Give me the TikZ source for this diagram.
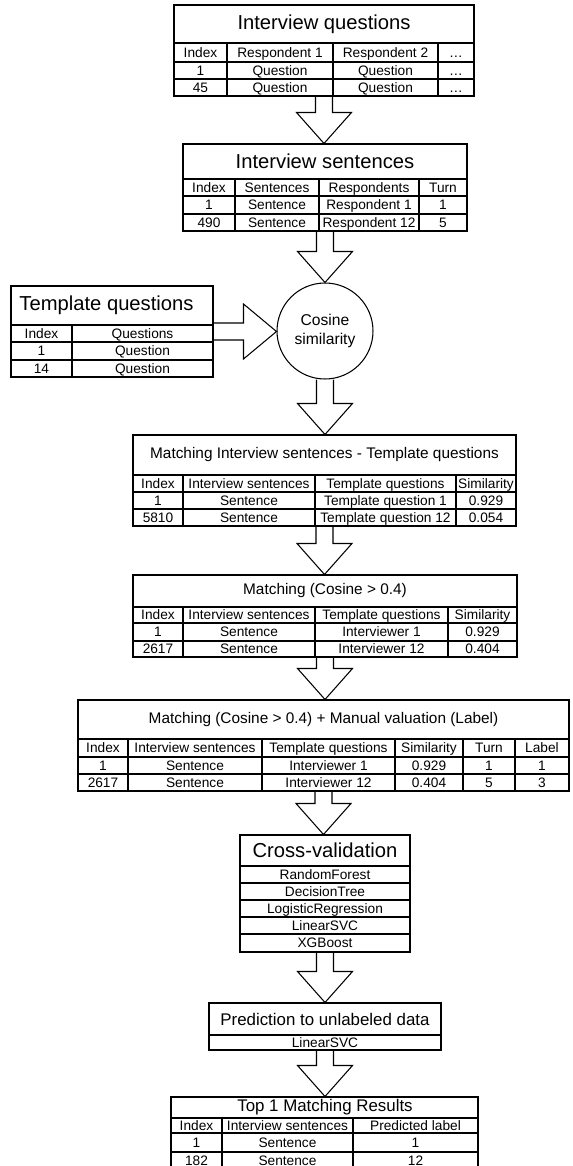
\documentclass[tikz,border=0pt]{standalone}
\usepackage{fontspec}
\setmainfont{Liberation Sans}
\usetikzlibrary{calc,fit}

\tikzset{
    box/.style={draw, inner sep=0pt},
    bigtitle/.style={font=\fontsize{11.5}{13}\selectfont, inner sep=0pt},
    title/.style={font=\fontsize{9.6}{11}\selectfont, inner sep=0pt},
    midtitle/.style={font=\fontsize{8.75}{10}\selectfont, inner sep=0pt},
    cell/.style={font=\fontsize{7.8}{9}\selectfont, inner sep=0pt,
        text height=0.75em, text depth=0.2em},
    % hollow block arrows between the boxes
    fatdown/.style={line join=miter, to path={
        let \p1=(\tikztostart), \p2=(\tikztotarget) in
        (\x1-0.17cm,\y1) -- (\x1-0.17cm,\y2+0.62cm) -- (\x1-0.55cm,\y2+0.62cm)
        -- (\x1,\y2) -- (\x1+0.55cm,\y2+0.62cm) -- (\x1+0.17cm,\y2+0.62cm)
        -- (\x1+0.17cm,\y1)}},
    fatright/.style={line join=miter, to path={
        let \p1=(\tikztostart), \p2=(\tikztotarget) in
        (\x1,\y1+0.17cm) -- (\x2-0.66cm,\y1+0.17cm) -- (\x2-0.66cm,\y1+0.55cm)
        -- (\x2,\y1) -- (\x2-0.66cm,\y1-0.55cm) -- (\x2-0.66cm,\y1-0.17cm)
        -- (\x1,\y1-0.17cm)}}
}

% one row of table cells: name prefix, y, list of x/text
\newcommand{\cellrow}[3]{%
    \foreach \x/\txt [count=\cnum] in {#3}
        \node[cell] (#1-\cnum) at (\x,#2) {\txt};}

\begin{document}
\begin{tikzpicture}[x=0.02cm, y=-0.02cm, line width=0.6pt]
    \useasboundingbox (0,0) rectangle (572,1166);
    \clip (0,0) rectangle (572,1166);

    % Interview questions
    \node[box, fit={(174,5) (474,96)}] (iq) {};
    \node[bigtitle] (iq-t) at (324,24) {Interview questions};
    \foreach \y in {43,62,79} \draw (174,\y) -- (474,\y);
    \foreach \x in {227,333,438} \draw (\x,43) -- (\x,96);
    \cellrow{iqh}{52.5}{200.5/Index, 280/Respondent 1, 385.5/Respondent 2, 456/\ldots}
    \cellrow{iqa}{70.5}{200.5/1, 280/Question, 385.5/Question, 456/\ldots}
    \cellrow{iqb}{87.5}{200.5/45, 280/Question, 385.5/Question, 456/\ldots}

    % Interview sentences
    \node[box, fit={(183,144) (467,231)}] (is) {};
    \node[bigtitle] (is-t) at (325,161.5) {Interview sentences};
    \foreach \y in {179,196,214} \draw (183,\y) -- (467,\y);
    \foreach \x in {235,319,419} \draw (\x,179) -- (\x,231);
    \cellrow{ish}{187.5}{209/Index, 277/Sentences, 369/Respondents, 443/Turn}
    \cellrow{isa}{205}{209/1, 277/Sentence, 369/Respondent 1, 443/1}
    \cellrow{isb}{222.5}{209/490, 277/Sentence, 369/Respondent 12, 443/5}

    % Template questions
    \node[box, fit={(11,286) (213,377)}] (tq) {};
    \node[bigtitle] (tq-t) at (106.5,305.5) {Template questions};
    \foreach \y in {325,342,360} \draw (11,\y) -- (213,\y);
    \draw (72,325) -- (72,377);
    \cellrow{tqh}{333.5}{41.5/Index, 142.5/Questions}
    \cellrow{tqa}{351}{41.5/1, 142.5/Question}
    \cellrow{tqb}{368.5}{41.5/14, 142.5/Question}

    % Cosine similarity
    \node[draw, circle, minimum size=1.92cm, inner sep=0pt, align=center,
        font=\fontsize{8.9}{10.8}\selectfont] (cs) at (325,331) {Cosine\\similarity};

    % Matching Interview sentences - Template questions
    \node[box, fit={(133,435) (516,526)}] (mall) {};
    \node[midtitle] (mall-t) at (324.5,455) {Matching Interview sentences - Template questions};
    \foreach \y in {475,492,509} \draw (133,\y) -- (516,\y);
    \foreach \x in {183,315,456} \draw (\x,475) -- (\x,526);
    \cellrow{mallh}{483.5}{158/Index, 249/Interview sentences, 385.5/Template questions, 486/Similarity}
    \cellrow{malla}{500.5}{158/1, 249/Sentence, 385.5/Template question 1, 486/0.929}
    \cellrow{mallb}{517.5}{158/5810, 249/Sentence, 385.5/Template question 12, 486/0.054}

    % Matching (Cosine > 0.4)
    \node[box, fit={(133,575) (517,657)}] (mcos) {};
    \node[midtitle] (mcos-t) at (325,591) {Matching (Cosine > 0.4)};
    \foreach \y in {607,623,641} \draw (133,\y) -- (517,\y);
    \foreach \x in {183,315,448} \draw (\x,607) -- (\x,657);
    \cellrow{mcosh}{615}{158/Index, 249/Interview sentences, 381.5/Template questions, 482.5/Similarity}
    \cellrow{mcosa}{632}{158/1, 249/Sentence, 381.5/Interviewer 1, 482.5/0.929}
    \cellrow{mcosb}{649}{158/2617, 249/Sentence, 381.5/Interviewer 12, 482.5/0.404}

    % Matching (Cosine > 0.4) + Manual valuation (Label)
    \node[box, fit={(78,700) (569,791)}] (mlab) {};
    \node[midtitle] (mlab-t) at (323.5,719.5) {Matching (Cosine > 0.4) + Manual valuation (Label)};
    \foreach \y in {739,757,774} \draw (78,\y) -- (569,\y);
    \foreach \x in {128,262,395,463,515} \draw (\x,739) -- (\x,791);
    \cellrow{mlabh}{748}{103/Index, 195/Interview sentences, 328.5/Template questions, 429/Similarity, 489/Turn, 542/Label}
    \cellrow{mlaba}{765.5}{103/1, 195/Sentence, 328.5/Interviewer 1, 429/0.929, 489/1, 542/1}
    \cellrow{mlabb}{782.5}{103/2617, 195/Sentence, 328.5/Interviewer 12, 429/0.404, 489/5, 542/3}

    % Cross-validation
    \node[box, fit={(240,835) (410,952)}] (cv) {};
    \node[bigtitle] (cv-t) at (325,850.5) {Cross-validation};
    \foreach \y in {866,883,900,917,934} \draw (240,\y) -- (410,\y);
    \foreach \y/\txt [count=\cnum] in {874.5/RandomForest, 891.5/DecisionTree,
        908.5/LogisticRegression, 925.5/LinearSVC, 943/XGBoost}
        \node[cell] (cv-\cnum) at (325,\y) {\txt};

    % Prediction to unlabeled data
    \node[box, fit={(209,1003) (441,1050)}] (pr) {};
    \node[title] (pr-t) at (325,1019) {Prediction to unlabeled data};
    \draw (209,1035) -- (441,1035);
    \node[cell] (pr-1) at (325,1042.5) {LinearSVC};

    % Top 1 Matching Results
    \node[box, fit={(171,1097) (478,1170)}] (top) {};
    \node[title] (top-t) at (325,1107.5) {Top 1 Matching Results};
    \foreach \y in {1118,1133,1152} \draw (171,\y) -- (478,\y);
    \foreach \x in {222,353} \draw (\x,1118) -- (\x,1170);
    \cellrow{toph}{1125.5}{196.5/Index, 287.5/Interview sentences, 415.5/Predicted label}
    \cellrow{topa}{1142.5}{196.5/1, 287.5/Sentence, 415.5/1}
    \cellrow{topb}{1160.5}{196.5/182, 287.5/Sentence, 415.5/12}

    % block arrows
    \draw[fatdown] (iq.south) to (is.north);
    \draw[fatdown] (is.south) to (cs.north);
    \draw[fatright] (tq.east) to (cs.west);
    \draw[fatdown] (cs.south) to (mall.north);
    \draw[fatdown] (mall.south) to (mcos.north);
    \draw[fatdown] (mcos.south) to (mlab.north);
    \draw[fatdown] (mlab.south) to (cv.north);
    \draw[fatdown] (cv.south) to (pr.north);
    \draw[fatdown] (pr.south) to (top.north);
\end{tikzpicture}
\end{document}
